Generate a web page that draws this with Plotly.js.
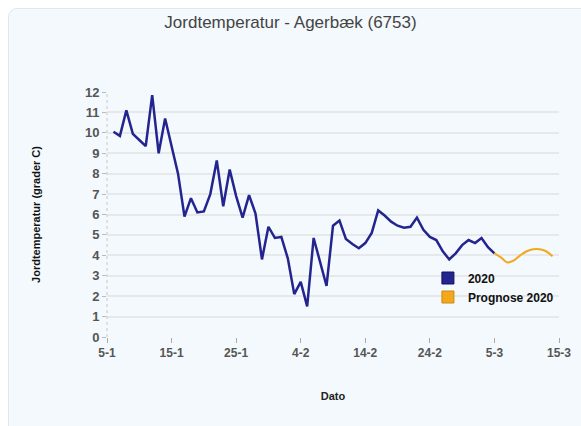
<!DOCTYPE html>
<html>
<head>
<meta charset="utf-8">
<script src="https://cdn.plot.ly/plotly-3.0.1.min.js"></script>
<style>
html,body{margin:0;padding:0;background:#ffffff;}
#panel{position:absolute;left:8px;top:8px;width:590px;height:440px;background:#f3f9fc;border:1px solid #e1e7eb;border-radius:9px;}
#chart{position:absolute;left:0;top:0;width:581px;height:426px;}
</style>
</head>
<body>
<div id="panel"></div>
<div id="chart"></div>
<script>
// Observed soil temperature 2020 (daily, 6-1 .. 5-3)
const obsDates = [
 '2020-01-06','2020-01-07','2020-01-08','2020-01-09','2020-01-10','2020-01-11','2020-01-12','2020-01-13','2020-01-14','2020-01-15',
 '2020-01-16','2020-01-17','2020-01-18','2020-01-19','2020-01-20','2020-01-21','2020-01-22','2020-01-23','2020-01-24','2020-01-25',
 '2020-01-26','2020-01-27','2020-01-28','2020-01-29','2020-01-30','2020-01-31','2020-02-01','2020-02-02','2020-02-03','2020-02-04',
 '2020-02-05','2020-02-06','2020-02-07','2020-02-08','2020-02-09','2020-02-10','2020-02-11','2020-02-12','2020-02-13','2020-02-14',
 '2020-02-15','2020-02-16','2020-02-17','2020-02-18','2020-02-19','2020-02-20','2020-02-21','2020-02-22','2020-02-23','2020-02-24',
 '2020-02-25','2020-02-26','2020-02-27','2020-02-28','2020-02-29','2020-03-01','2020-03-02','2020-03-03','2020-03-04','2020-03-05'
];
const obsValues = [
 10.05, 9.85, 11.1, 9.95, 9.65, 9.35, 11.85, 9.0, 10.7, 9.4,
 8.0, 5.9, 6.8, 6.1, 6.15, 7.0, 8.65, 6.4, 8.2, 6.9,
 5.85, 6.95, 6.05, 3.8, 5.4, 4.85, 4.9, 3.85, 2.1, 2.7,
 1.5, 4.85, 3.7, 2.5, 5.45, 5.7, 4.8, 4.55, 4.35, 4.6,
 5.1, 6.2, 5.95, 5.65, 5.45, 5.35, 5.4, 5.85, 5.25, 4.9,
 4.75, 4.2, 3.8, 4.1, 4.5, 4.75, 4.6, 4.85, 4.4, 4.1
];
// Forecast
const fcDates = ['2020-03-05','2020-03-06','2020-03-07','2020-03-08','2020-03-09','2020-03-10','2020-03-11','2020-03-12','2020-03-13','2020-03-14'];
const fcValues = [4.1, 3.9, 3.65, 3.75, 4.0, 4.2, 4.3, 4.3, 4.2, 3.95];

const seriesNames = ['2020', 'Prognose 2020'];
const tickVals = ['2020-01-05','2020-01-15','2020-01-25','2020-02-04','2020-02-14','2020-02-24','2020-03-05','2020-03-15'];
const tickText = ['5-1','15-1','25-1','4-2','14-2','24-2','5-3','15-3'];

const navy = '#24248f';
const orange = '#f3a81c';

const traces = [
  {x: obsDates, y: obsValues, type: 'scatter', mode: 'lines', line: {color: navy, width: 2.5}, showlegend: false},
  {x: fcDates, y: fcValues, type: 'scatter', mode: 'lines', line: {color: orange, width: 2, shape: 'spline'}, showlegend: false},
  {x: [null], y: [null], type: 'scatter', mode: 'markers', name: seriesNames[0], marker: {symbol: 'square', size: 12, color: navy, line: {color: '#101060', width: 1}}},
  {x: [null], y: [null], type: 'scatter', mode: 'markers', name: seriesNames[1], marker: {symbol: 'square', size: 12, color: orange, line: {color: '#c98a10', width: 1}}}
];

const layout = {
  width: 581, height: 426,
  paper_bgcolor: 'rgba(0,0,0,0)',
  plot_bgcolor: 'rgba(0,0,0,0)',
  margin: {l: 107, r: 22, t: 92, b: 89},
  font: {family: 'Liberation Sans, Arial, sans-serif', color: '#555'},
  title: {text: 'Jordtemperatur - Agerbæk (6753)', font: {size: 17, color: '#444'}, x: 0.5, xref: 'container', y: 0.948, yref: 'container', yanchor: 'middle'},
  xaxis: {
    type: 'date',
    range: ['2020-01-05', '2020-03-15'],
    tickvals: tickVals, ticktext: tickText,
    showgrid: false, zeroline: false, showline: false,
    ticks: 'outside', ticklen: 5, tickcolor: '#aaa', tickwidth: 1,
    tickfont: {size: 12, color: '#555', weight: 'bold'},
    title: {text: 'Dato', font: {size: 11, color: '#222', weight: 'bold'}, standoff: 32}
  },
  yaxis: {
    range: [0, 12], dtick: 1, tick0: 0,
    showgrid: true, gridcolor: '#e6e8ea', gridwidth: 2,
    zeroline: false, showline: false,
    ticks: 'outside', ticklen: 4, tickcolor: '#bbb',
    tickfont: {size: 13, color: '#555', weight: 'bold'},
    title: {text: 'Jordtemperatur (grader C)', font: {size: 11, color: '#111', weight: 'bold'}, standoff: 42}
  },
  shapes: [
    {type: 'line', xref: 'paper', yref: 'paper', x0: 0, x1: 0, y0: 0, y1: 1, line: {color: '#c8c8c8', width: 1, dash: 'dot'}}
  ],
  legend: {
    x: 0.71, y: 0.30, xanchor: 'left', yanchor: 'top',
    bgcolor: 'rgba(0,0,0,0)',
    font: {size: 12, color: '#111', weight: 'bold'},
    tracegroupgap: 0
  },
  showlegend: true
};

Plotly.newPlot('chart', traces, layout, {displayModeBar: false, staticPlot: true});
</script>
</body>
</html>
